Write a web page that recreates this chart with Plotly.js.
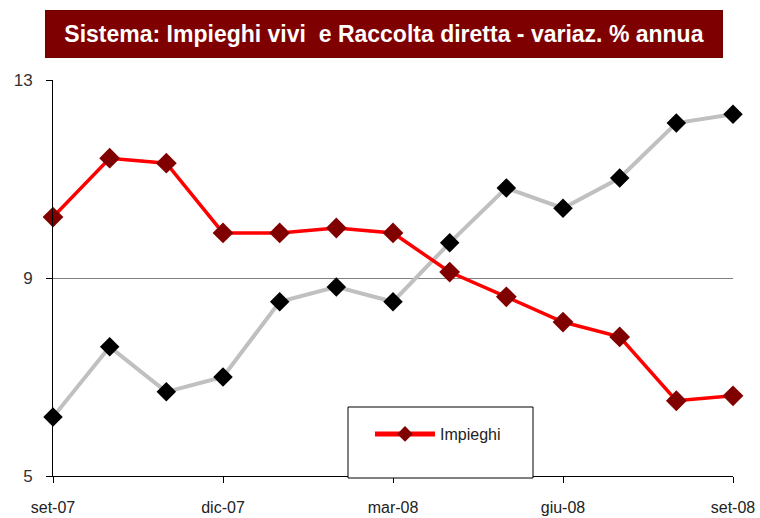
<!DOCTYPE html>
<html><head><meta charset="utf-8">
<script src="https://cdn.plot.ly/plotly-3.0.1.min.js"></script>
<style>html,body{margin:0;padding:0;background:#fff}#c{width:760px;height:518px}</style>
</head><body><div id="c"></div>
<script>
var months = ["set-07","ott-07","nov-07","dic-07","gen-08","feb-08","mar-08","apr-08","mag-08","giu-08","lug-08","ago-08","set-08"];
var tickLabels = ["set-07","dic-07","mar-08","giu-08","set-08"];
var impieghi = [10.23,11.42,11.32,9.91,9.91,10.01,9.91,9.12,8.62,8.11,7.81,6.52,6.62];
var raccolta = [6.19,7.61,6.70,7.00,8.52,8.82,8.52,9.71,10.82,10.41,11.02,12.13,12.31];
var yTicks = [5,9,13];

var fontN = "'Liberation Sans', Arial, sans-serif";
var traces = [
  {x: months, y: raccolta, type:'scatter', mode:'lines+markers', name:'Raccolta', showlegend:false,
   line:{color:'#c0c0c0', width:4}, marker:{symbol:'diamond', size:15, color:'#000000'}, cliponaxis:false},
  {x: months, y: impieghi, type:'scatter', mode:'lines+markers', name:'Impieghi',
   line:{color:'#ff0000', width:3.5}, marker:{symbol:'diamond', size:16, color:'#800000'}, cliponaxis:false}
];
var layout = {
  width:760, height:518,
  margin:{l:53, r:27, t:80, b:42},
  paper_bgcolor:'#ffffff', plot_bgcolor:'#ffffff',
  showlegend:true,
  legend:{x:(370-53)/680, y:(476-417)/396, xanchor:'left', yanchor:'top', bgcolor:'rgba(0,0,0,0)', borderwidth:0,
          itemsizing:'constant', itemwidth:60,
          font:{family:fontN, size:16, color:'#222'}},
  xaxis:{type:'category', range:[0,12], tickmode:'array', tickvals:tickLabels, ticktext:tickLabels,
         showgrid:false, showline:true, linecolor:'#000', linewidth:1, ticks:'outside', ticklen:6, tickcolor:'#000',
         ticklabelstandoff:11, tickfont:{family:fontN, size:16, color:'#222'}, zeroline:false, fixedrange:true},
  yaxis:{range:[5,13], tickmode:'array', tickvals:yTicks, ticktext:yTicks.map(String),
         showgrid:true, gridcolor:'#808080', gridwidth:1, showline:true, linecolor:'#000', linewidth:1,
         ticks:'outside', ticklen:6, tickcolor:'#000', ticklabelstandoff:10,
         tickfont:{family:fontN, size:17, color:'#333'},
         zeroline:false, fixedrange:true},
  shapes:[
    {type:'rect', xref:'paper', yref:'paper', layer:'above',
     x0:(348-53)/680, x1:(533-53)/680, y0:(476-478)/396, y1:(476-407)/396,
     fillcolor:'#ffffff', line:{color:'#000', width:1}}
  ],
  annotations:[
    {xref:'paper', yref:'paper', x:(384-53)/680, y:1+(80-34)/396, xanchor:'center', yanchor:'middle', showarrow:false,
     text:'<b>Sistema: Impieghi vivi  e Raccolta diretta - variaz. % annua</b>',
     font:{family:fontN, size:23, color:'#ffffff'}, bgcolor:'#7f0000', bordercolor:'#6a0000', borderwidth:1,
     width:674, height:44, align:'center', valign:'middle'}
  ]
};
Plotly.newPlot('c', traces, layout, {displayModeBar:false, staticPlot:true});
</script></body></html>
